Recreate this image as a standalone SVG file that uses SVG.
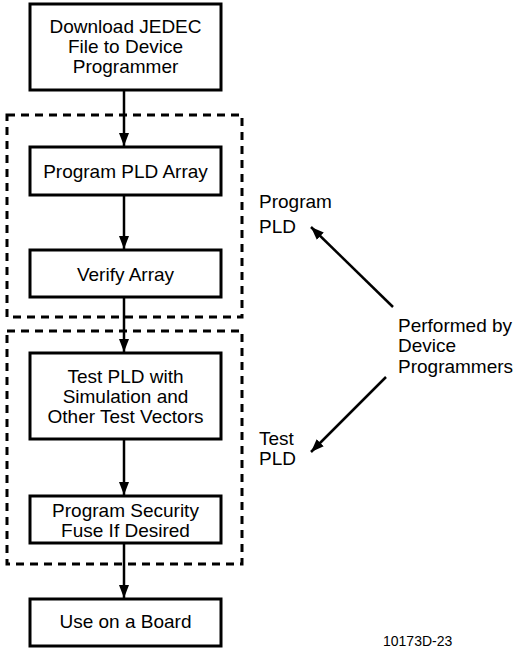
<svg xmlns="http://www.w3.org/2000/svg" width="514" height="648" viewBox="0 0 514 648">
<style>
.box{fill:#fff;stroke:#000;stroke-width:3}
.grp{fill:none;stroke:#000;stroke-width:3;stroke-dasharray:8 6}
.t{font-family:"Liberation Sans",Arial,sans-serif;font-size:19px;fill:#000}
.c{text-anchor:middle}
.con{stroke:#000;stroke-width:2.5;fill:none}
</style>
<defs>
<marker id="ah" markerUnits="userSpaceOnUse" markerWidth="14" markerHeight="12" refX="13" refY="6" orient="auto">
<path d="M0,1 L13,6 L0,11 Z" fill="#000"/>
</marker>
</defs>
<rect width="514" height="648" fill="#fff"/>
<g id="groups">
<rect class="grp" x="7" y="115" width="235" height="202"/>
<rect class="grp" x="7" y="331" width="235" height="233"/>
</g>
<g id="connectors">
<line class="con" x1="124" y1="90" x2="124" y2="146" marker-end="url(#ah)"/>
<line class="con" x1="124" y1="195" x2="124" y2="249" marker-end="url(#ah)"/>
<line class="con" x1="124" y1="297" x2="124" y2="352" marker-end="url(#ah)"/>
<line class="con" x1="124" y1="439" x2="124" y2="495" marker-end="url(#ah)"/>
<line class="con" x1="124" y1="543" x2="124" y2="598" marker-end="url(#ah)"/>
<line class="con" x1="393" y1="307" x2="311" y2="227" marker-end="url(#ah)"/>
<line class="con" x1="386" y1="377" x2="311" y2="452" marker-end="url(#ah)"/>
</g>
<g id="n1">
<rect class="box" x="30" y="4" width="191" height="86"/>
<text class="t c" x="125.5" y="33">Download JEDEC</text>
<text class="t c" x="125.5" y="53">File to Device</text>
<text class="t c" x="125.5" y="73">Programmer</text>
</g>
<g id="n2">
<rect class="box" x="30" y="147" width="191" height="48"/>
<text class="t c" x="125.5" y="178">Program PLD Array</text>
</g>
<g id="n3">
<rect class="box" x="30" y="250" width="191" height="47"/>
<text class="t c" x="125.5" y="281">Verify Array</text>
</g>
<g id="n4">
<rect class="box" x="30" y="353" width="191" height="86"/>
<text class="t c" x="125.5" y="383">Test PLD with</text>
<text class="t c" x="125.5" y="403">Simulation and</text>
<text class="t c" x="125.5" y="423">Other Test Vectors</text>
</g>
<g id="n5">
<rect class="box" x="30" y="496" width="191" height="47"/>
<text class="t c" x="125.5" y="517">Program Security</text>
<text class="t c" x="125.5" y="537">Fuse If Desired</text>
</g>
<g id="n6">
<rect class="box" x="30" y="599" width="191" height="47"/>
<text class="t c" x="125.5" y="628">Use on a Board</text>
</g>
<g id="labels">
<text class="t" x="259" y="208">Program</text>
<text class="t" x="259" y="233">PLD</text>
<text class="t" x="398" y="332">Performed by</text>
<text class="t" x="398" y="352">Device</text>
<text class="t" x="398" y="373">Programmers</text>
<text class="t" x="259" y="445">Test</text>
<text class="t" x="259" y="465">PLD</text>
<text class="t" x="383" y="646" style="font-size:14px">10173D-23</text>
</g>
</svg>
